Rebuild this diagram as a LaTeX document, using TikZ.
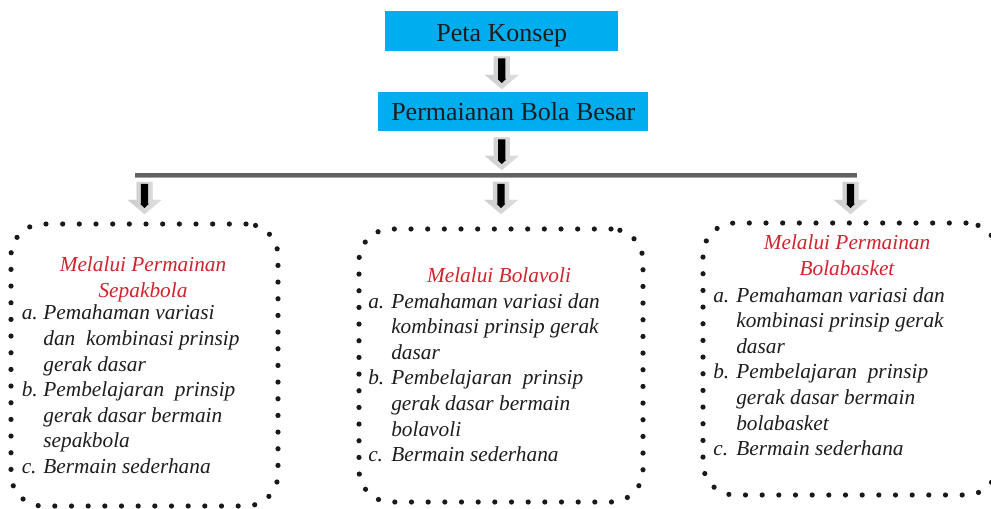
\documentclass[tikz,border=0pt]{standalone}
\usepackage{fontspec}
\setmainfont{Liberation Serif}
\usetikzlibrary{calc}
\definecolor{boxblue}{RGB}{0,174,239}
\definecolor{titlered}{RGB}{208,35,45}
\definecolor{inktext}{RGB}{30,28,30}
\newcommand{\blkarrow}[2]{%
  \path[left color=gray!40, middle color=white, right color=gray!25, draw=gray!30, line width=0.3pt]
    let \p1=(#1), \p2=(#2) in
    (\x1-6pt,\y1) -- (\x1+6pt,\y1) -- (\x1+6pt,\y2+10.5pt) -- (\x1+12.4pt,\y2+10.5pt)
    -- (\x1,\y2) -- (\x1-12.4pt,\y2+10.5pt) -- (\x1-6pt,\y2+10.5pt) -- cycle;
  \fill[black] let \p1=(#1), \p2=(#2) in
    (\x1-2.7pt,\y1-1.5pt) -- (\x1+2.7pt,\y1-1.5pt) -- (\x1+2.7pt,\y2+7.5pt) -- (\x1+3.2pt,\y2+7.5pt)
    -- (\x1,\y2+4.5pt) -- (\x1-3.2pt,\y2+7.5pt) -- (\x1-2.7pt,\y2+7.5pt) -- cycle;
}
\tikzset{
  headbox/.style={rectangle, fill=boxblue, inner sep=0pt, text=inktext,
    font=\fontsize{19.5}{23}\selectfont},
  dotbox/.style={rectangle, rounded corners=24pt, inner sep=0pt, draw=black!90,
    line width=3.9pt, line cap=round, dash pattern=on 0pt off 12.5pt},
  titletext/.style={inner sep=0pt, anchor=base, text=titlered,
    font=\fontsize{16}{19.2}\selectfont\itshape},
  listtext/.style={inner sep=0pt, anchor=base west, text=inktext,
    font=\fontsize{16}{19.2}\selectfont\itshape},
}
\begin{document}
\begin{tikzpicture}[x=0.75pt,y=-0.75pt]
\useasboundingbox (0,0) rectangle (991,509);
\clip (0,0) rectangle (991,509);
% header boxes
\node[headbox, anchor=north west, minimum width=174.75pt, minimum height=29.8pt,
  text height=22.5pt, text depth=7.3pt] (peta) at (385,11) {Peta Konsep};
\node[headbox, anchor=north west, minimum width=202.5pt, minimum height=29.6pt,
  text height=21.4pt, text depth=8.2pt] (bola) at (378,91.5) {Permaianan Bola Besar};
% dotted boxes
\node[dotbox, minimum width=200.25pt, minimum height=211.5pt] (box1) at (144.5,365) {};
\node[dotbox, minimum width=213pt, minimum height=204.75pt] (box2) at (501,365.5) {};
\node[dotbox, minimum width=221.25pt, minimum height=204pt] (box3) at (850.5,359) {};
% bar
\coordinate (barL) at (135,175);
\coordinate (barR) at (857,175);
\draw[line width=2.6pt, black!62] (barL) -- (barR);
\draw[line width=0.8pt, black!35] ($(barL)+(0,2.3)$) -- ($(barR)+(0,2.3)$);
% arrow coordinates
\coordinate (s1) at ($(peta.south)+(0,5)$);
\coordinate (e1) at ($(bola.north -| peta.south)+(0,-2.5)$);
\coordinate (s2) at ($(bola.south -| peta.south)+(0,6)$);
\coordinate (jm) at (peta.south |- barL);
\coordinate (e2) at ($(jm)+(0,-5)$);
\coordinate (j1) at (box1.north |- barL);
\coordinate (j2) at (box2.north |- barL);
\coordinate (j3) at (box3.north |- barL);
\coordinate (t1) at ($(j1)+(0,39)$);
\coordinate (t2) at ($(j2)+(0,39)$);
\coordinate (t3) at ($(j3)+(0,39)$);
\coordinate (u1) at ($(j1)+(0,7)$);
\coordinate (u2) at ($(j2)+(0,7)$);
\coordinate (u3) at ($(j3)+(0,7)$);
\blkarrow{s1}{e1}
\blkarrow{s2}{e2}
\blkarrow{u1}{t1}
\blkarrow{u2}{t2}
\blkarrow{u3}{t3}
% box 1 text
\node[titletext] (ttl1) at (143,272) {\begin{tabular}[t]{@{}c@{}}Melalui Permainan\\Sepakbola\end{tabular}};
\node[listtext] (lst1) at (21.5,320) {\begin{tabular}[t]{@{}p{16.2pt}@{}l@{}}
a. & Pemahaman variasi\\
   & dan\ \ kombinasi prinsip\\
   & gerak dasar\\
b. & Pembelajaran\ \ prinsip\\
   & gerak dasar bermain\\
   & sepakbola\\
c. & Bermain sederhana
\end{tabular}};
% box 2 text
\node[titletext] (ttl2) at (499,283) {Melalui Bolavoli};
\node[listtext] (lst2) at (368,308) {\begin{tabular}[t]{@{}p{17.25pt}@{}l@{}}
a. & Pemahaman variasi dan\\
   & kombinasi prinsip gerak\\
   & dasar\\
b. & Pembelajaran\ \ prinsip\\
   & gerak dasar bermain\\
   & bolavoli\\
c. & Bermain sederhana
\end{tabular}};
% box 3 text
\node[titletext] (ttl3) at (847,250) {\begin{tabular}[t]{@{}c@{}}Melalui Permainan\\Bolabasket\end{tabular}};
\node[listtext] (lst3) at (713,302) {\begin{tabular}[t]{@{}p{17.25pt}@{}l@{}}
a. & Pemahaman variasi dan\\
   & kombinasi prinsip gerak\\
   & dasar\\
b. & Pembelajaran\ \ prinsip\\
   & gerak dasar bermain\\
   & bolabasket\\
c. & Bermain sederhana
\end{tabular}};
\end{tikzpicture}
\end{document}
